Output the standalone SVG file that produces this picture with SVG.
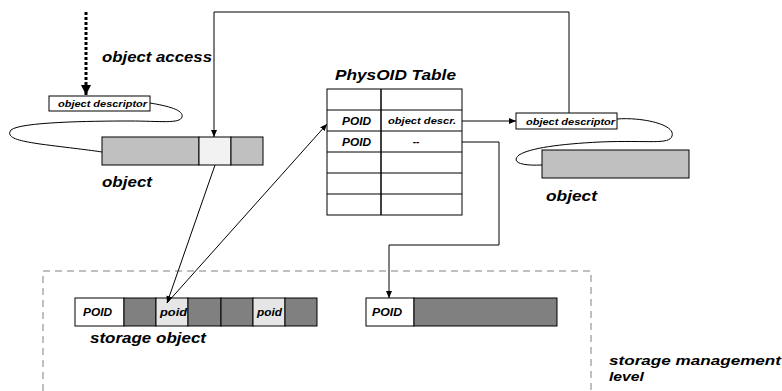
<svg xmlns="http://www.w3.org/2000/svg" width="782" height="391" viewBox="0 0 782 391">
<defs>
<marker id="ah" markerWidth="8" markerHeight="8" refX="7" refY="4" orient="auto" markerUnits="userSpaceOnUse">
<path d="M0,1 L7,4 L0,7 Z" fill="#000"/>
</marker>
<marker id="ahb" markerWidth="12" markerHeight="12" refX="10" refY="5" orient="auto" markerUnits="userSpaceOnUse">
<path d="M0,0 L10,5 L0,10 Z" fill="#000"/>
</marker>
</defs>
<style>
text{font-family:"Liberation Sans",Arial,sans-serif;font-weight:bold;font-style:italic;fill:#000}
.lbl{font-size:14px}
.sm{font-size:9px}
.cell{font-size:10px}
.box{stroke:#000;stroke-width:1}
.ln{fill:none;stroke:#000;stroke-width:1}
.sq{fill:none;stroke:#000;stroke-width:1}
</style>
<rect width="782" height="391" fill="#fff"/>

<g id="access">
<line x1="86" y1="12" x2="86" y2="95" stroke="#000" stroke-width="3" stroke-dasharray="3,2" marker-end="url(#ahb)"/>
<text class="lbl" x="102" y="62" textLength="110" lengthAdjust="spacingAndGlyphs">object access</text>
</g>

<g id="descriptor-left">
<rect x="49" y="96" width="101" height="15" fill="#fff" class="box"/>
<text class="sm" x="58" y="107" textLength="89" lengthAdjust="spacingAndGlyphs">object descriptor</text>
<path class="sq" d="M150,103 C168,106 184,110 182,117 C180,124 160,121 130,121 C90,121 20,122 11,130 C5,138 20,141 40,144 C70,148 90,150 102,152"/>
</g>

<g id="object-left">
<rect x="102" y="137" width="97" height="28" fill="#c0c0c0" class="box"/>
<rect x="199" y="137" width="32" height="28" fill="#f2f2f2" class="box"/>
<rect x="231" y="137" width="32" height="28" fill="#c0c0c0" class="box"/>
<text class="lbl" x="102" y="187" textLength="50" lengthAdjust="spacingAndGlyphs">object</text>
</g>

<g id="physoid-table">
<text x="335" y="80" style="font-size:14px" textLength="121" lengthAdjust="spacingAndGlyphs">PhysOID Table</text>
<rect x="327" y="89" width="135" height="126" fill="#fff" stroke="#000" stroke-width="1"/>
<line x1="381" y1="89" x2="381" y2="215" stroke="#000" stroke-width="1.5"/>
<g stroke="#000" stroke-width="1">
<line x1="327" y1="110" x2="462" y2="110"/>
<line x1="327" y1="131" x2="462" y2="131"/>
<line x1="327" y1="152" x2="462" y2="152"/>
<line x1="327" y1="173" x2="462" y2="173"/>
<line x1="327" y1="194" x2="462" y2="194"/>
</g>
<text class="cell" x="342" y="124.5" textLength="29" lengthAdjust="spacingAndGlyphs">POID</text>
<text class="sm" x="388" y="124" textLength="68" lengthAdjust="spacingAndGlyphs">object descr.</text>
<text class="cell" x="342" y="145.5" textLength="29" lengthAdjust="spacingAndGlyphs">POID</text>
<text class="cell" x="416" y="145" text-anchor="middle">--</text>
</g>

<g id="descriptor-right">
<rect x="516" y="113" width="101" height="16" fill="#fff" class="box"/>
<text class="sm" x="526" y="124.5" textLength="89" lengthAdjust="spacingAndGlyphs">object descriptor</text>
<path class="sq" d="M617,119 C640,117 676,124 672,136 C669,145 650,140 600,142 C560,144 530,148 519,155 C511,162 520,166 542,165"/>
</g>

<g id="object-right">
<rect x="542" y="150" width="147" height="28" fill="#c0c0c0" class="box"/>
<text class="lbl" x="546" y="201" textLength="51" lengthAdjust="spacingAndGlyphs">object</text>
</g>

<g id="storage-level">
<path d="M43,391 L43,271 L591,271 L591,391" fill="none" stroke="#808080" stroke-width="1" stroke-dasharray="7,5"/>
<text x="609" y="365" style="font-size:13px" textLength="172" lengthAdjust="spacingAndGlyphs">storage management</text>
<text x="609" y="381" style="font-size:13px" textLength="35" lengthAdjust="spacingAndGlyphs">level</text>
</g>

<g id="storage-object">
<rect x="75" y="298" width="49" height="28" fill="#fff" class="box"/>
<rect x="124" y="298" width="32" height="28" fill="#808080" class="box"/>
<rect x="156" y="298" width="32" height="28" fill="#e6e6e6" class="box"/>
<rect x="188" y="298" width="33" height="28" fill="#808080" class="box"/>
<rect x="221" y="298" width="32" height="28" fill="#808080" class="box"/>
<rect x="253" y="298" width="32" height="28" fill="#e6e6e6" class="box"/>
<rect x="285" y="298" width="32" height="28" fill="#808080" class="box"/>
<text class="cell" x="83" y="316" textLength="29" lengthAdjust="spacingAndGlyphs">POID</text>
<text class="cell" x="160" y="316" textLength="27" lengthAdjust="spacingAndGlyphs">poid</text>
<text class="cell" x="257" y="316" textLength="25" lengthAdjust="spacingAndGlyphs">poid</text>
<text class="lbl" x="90" y="343" textLength="116" lengthAdjust="spacingAndGlyphs">storage object</text>
</g>

<g id="storage-object-2">
<rect x="366" y="298" width="48" height="28" fill="#fff" class="box"/>
<rect x="414" y="298" width="143" height="28" fill="#808080" class="box"/>
<text class="cell" x="372" y="316" textLength="30" lengthAdjust="spacingAndGlyphs">POID</text>
</g>

<g id="connectors">
<path class="ln" d="M569,113 L569,12 L214,12 L214,137" marker-end="url(#ah)"/>
<line class="ln" x1="215" y1="165" x2="167" y2="303" marker-end="url(#ah)"/>
<line class="ln" x1="167" y1="303" x2="327" y2="124" marker-end="url(#ah)"/>
<line class="ln" x1="462" y1="121" x2="516" y2="121" marker-end="url(#ah)"/>
<path class="ln" d="M462,142 L499,142 L499,245 L389,245 L389,298" marker-end="url(#ah)"/>
</g>
</svg>
